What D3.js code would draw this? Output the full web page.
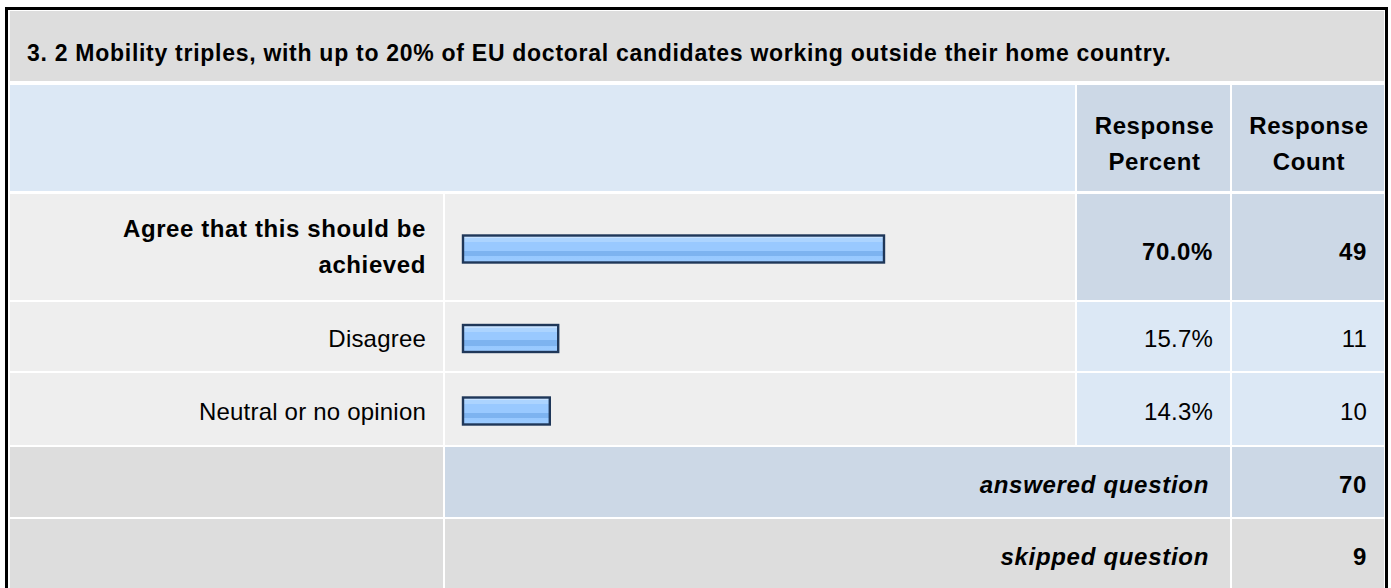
<!DOCTYPE html>
<html>
<head>
<meta charset="utf-8">
<script src="https://cdn.jsdelivr.net/npm/d3@7"></script>
<style>
  html, body { margin: 0; padding: 0; background: #ffffff; }
  svg { display: block; }
  text { font-family: "Liberation Sans", Arial, Helvetica, sans-serif; fill: #000; }
</style>
</head>
<body>
<svg id="chart" width="1391" height="588"></svg>
<script>
// ---- data ----
const questionTitle = "3. 2 Mobility triples, with up to 20% of EU doctoral candidates working outside their home country.";
const categories = ["Agree that this should be achieved", "Disagree", "Neutral or no opinion"];
const percents = [70.0, 15.7, 14.3];
const counts = [49, 11, 10];
const highlighted = [true, false, false];
const headerPercent = ["Response", "Percent"];
const headerCount = ["Response", "Count"];
const summaryLabels = ["answered question", "skipped question"];
const summaryValues = [70, 9];

// ---- layout ----
const svg = d3.select("#chart");
const colX = [10, 445, 1077, 1232];
const colEnd = [443, 1075, 1230, 1384];
const titleRow = { y0: 11, y1: 81 };
const headRow = { y0: 85, y1: 191 };
const dataRows = [{ y0: 194, y1: 300 }, { y0: 302, y1: 371 }, { y0: 373, y1: 445 }];
const sumRows = [{ y0: 447, y1: 517 }, { y0: 519, y1: 589 }];

const C = {
  title: "#dddddd", head: "#dce8f5", headDark: "#ccd8e6",
  row: "#eeeeee", cellLight: "#dce8f5", cellDark: "#ccd8e6", gray: "#dddddd"
};
const BOLD = { size: 24, ls: 0.6 };
const TITLE = { size: 23, ls: 0.72 };
const REG = { size: 24, ls: 0.2 };
const ITALIC_LS = 0.7;
const PAD = 17;
const LH = 36;

function cell(x0, x1, y0, y1, fill) {
  svg.append("rect").attr("x", x0).attr("y", y0).attr("width", x1 - x0).attr("height", y1 - y0).attr("fill", fill);
}
function txt(x, y, s, opts) {
  const o = Object.assign({ anchor: "end", bold: false, italic: false, font: null }, opts || {});
  const f = o.font || (o.bold ? BOLD : REG);
  return svg.append("text").attr("x", x).attr("y", y).attr("text-anchor", o.anchor)
    .attr("font-size", f.size).attr("font-weight", o.bold ? "bold" : "normal")
    .attr("font-style", o.italic ? "italic" : "normal")
    .attr("letter-spacing", o.italic ? ITALIC_LS : f.ls).text(s);
}
const baseY = (r) => (r.y0 + r.y1) / 2 + 10.5;

// outer border
svg.append("rect").attr("x", 6.5).attr("y", 8.5).attr("width", 1380).attr("height", 600)
  .attr("fill", "none").attr("stroke", "#000").attr("stroke-width", 3);

// title row
cell(colX[0], colEnd[3], titleRow.y0, titleRow.y1, C.title);
txt(27, 61, questionTitle, { anchor: "start", bold: true, font: TITLE });

// header row
cell(colX[0], colEnd[1], headRow.y0, headRow.y1, C.head);
cell(colX[2], colEnd[2], headRow.y0, headRow.y1, C.headDark);
cell(colX[3], colEnd[3], headRow.y0, headRow.y1, C.headDark);
[[headerPercent, 2], [headerCount, 3]].forEach(([lines, c]) => {
  const xm = (colX[c] + colEnd[c]) / 2 + 1;
  lines.forEach((l, i) => txt(xm, 134 + i * LH, l, { bold: true, anchor: "middle" }));
});

// gradient for bars
const defs = svg.append("defs");
const grad = defs.append("linearGradient").attr("id", "barGrad").attr("x1", 0).attr("x2", 0).attr("y1", 0).attr("y2", 1);
[[0, "#c6e1ff"], [0.1, "#c6e1ff"], [0.1, "#acd4ff"], [0.25, "#acd4ff"], [0.25, "#99c9ff"],
 [0.56, "#99c9ff"], [0.56, "#7db3f0"], [0.76, "#7db3f0"], [0.76, "#97c8ff"], [1, "#9ccbff"]]
  .forEach(([o, c]) => grad.append("stop").attr("offset", o).attr("stop-color", c));

const x = d3.scaleLinear().domain([0, 100]).range([0, 600]);
const barX = 463;
const barH = 27;

// data rows
categories.forEach((cat, i) => {
  const r = dataRows[i];
  const dark = highlighted[i];
  cell(colX[0], colEnd[0], r.y0, r.y1, C.row);
  cell(colX[1], colEnd[1], r.y0, r.y1, C.row);
  cell(colX[2], colEnd[2], r.y0, r.y1, dark ? C.cellDark : C.cellLight);
  cell(colX[3], colEnd[3], r.y0, r.y1, dark ? C.cellDark : C.cellLight);

  // label with wrapping
  const words = cat.split(" ");
  const maxW = colEnd[0] - colX[0] - 2 * PAD - 20;
  const lines = [];
  let cur = [];
  const probe = txt(-1000, -1000, "", { bold: dark });
  words.forEach(w => {
    const test = cur.concat([w]).join(" ");
    probe.text(test);
    if (probe.node().getComputedTextLength() > maxW && cur.length) {
      lines.push(cur.join(" "));
      cur = [w];
    } else cur.push(w);
  });
  lines.push(cur.join(" "));
  probe.remove();
  const b0 = baseY(r) - (lines.length - 1) * LH / 2 - (lines.length > 1 ? 2.5 : 0);
  lines.forEach((l, k) => txt(colEnd[0] - PAD, b0 + k * LH, l, { bold: dark }));

  // bar
  const cy = (r.y0 + r.y1) / 2 + 2;
  svg.append("rect").attr("x", barX).attr("y", cy - barH / 2)
    .attr("width", x(percents[i]) + 1).attr("height", barH)
    .attr("fill", "url(#barGrad)").attr("stroke", "#1f3759").attr("stroke-width", 2.4);

  const vy = baseY(r) + (dark ? 2 : 0);
  txt(colEnd[2] - PAD, vy, d3.format(".1f")(percents[i]) + "%", { bold: dark });
  txt(colEnd[3] - PAD, vy, String(counts[i]), { bold: dark });
});

// summary rows
sumRows.forEach((r, i) => {
  const mid = i === 0 ? C.cellDark : C.gray;
  cell(colX[0], colEnd[0], r.y0, r.y1, C.gray);
  cell(colX[1], colEnd[2], r.y0, r.y1, mid);
  cell(colX[3], colEnd[3], r.y0, r.y1, mid);
  txt(colEnd[2] - PAD - 4, baseY(r), summaryLabels[i], { bold: true, italic: true });
  txt(colEnd[3] - PAD, baseY(r), String(summaryValues[i]), { bold: true });
});
</script>
</body>
</html>
